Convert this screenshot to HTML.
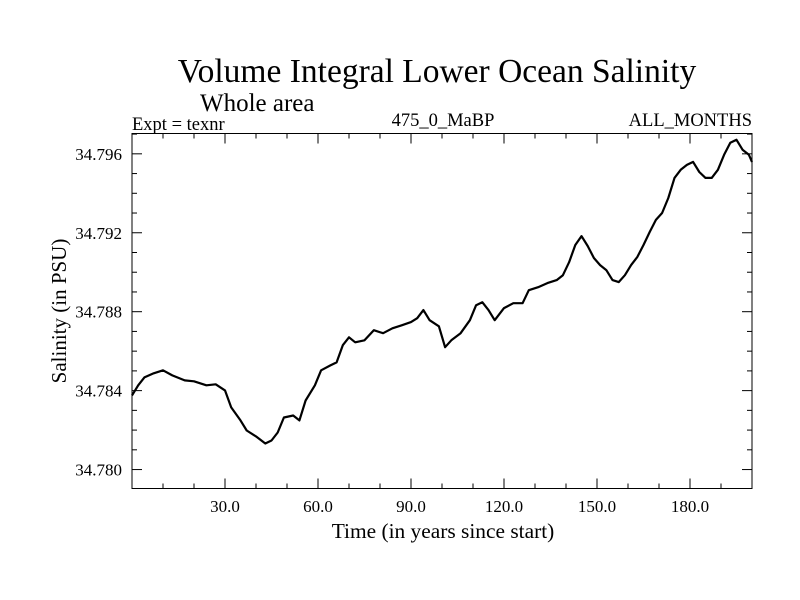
<!DOCTYPE html>
<html><head><meta charset="utf-8"><style>
body{margin:0;background:#fff}
svg{display:block;font-family:"Liberation Serif",serif}
</style></head><body>
<svg id="chart" width="800" height="600">
<text x="437" y="82" font-size="33.5" text-anchor="middle">Volume Integral Lower Ocean Salinity</text>
<text x="200" y="111" font-size="25">Whole area</text>
<text x="132" y="130" font-size="18.5">Expt = texnr</text>
<text x="443" y="126" font-size="18.5" text-anchor="middle">475_0_MaBP</text>
<text x="752" y="126" font-size="18.5" text-anchor="end">ALL_MONTHS</text>
<text x="443" y="538" font-size="21.4" text-anchor="middle">Time (in years since start)</text>
<text transform="translate(66,311) rotate(-90)" font-size="21" text-anchor="middle">Salinity (in PSU)</text>
<g id="axes"></g>
<path id="line" fill="none" stroke="#000" stroke-width="2.2" stroke-linejoin="round"></path>
<rect x="132" y="133.5" width="620" height="355" fill="none" stroke="#000" stroke-width="1"></rect>
</svg>
<script>
const years=[0,2,4,7,10,13,17,20,24,27,30,32,35,37,40,43,45,47,49,52,54,56,59,61,64,66,68,70,72,75,78,81,84,87,90,92,94,96,99,101,103,106,109,111,113,115,117,120,123,126,128,131,134,137,139,141,143,145,147,149,151,153,155,157,159,161,163,165,167,169,171,173,175,177,179,181,183,185,187,189,191,193,195,197,199,200];
const salinity=[34.78376,34.78427,34.78467,34.78488,34.78503,34.78477,34.78452,34.78447,34.78427,34.78432,34.78401,34.78315,34.78249,34.78198,34.78168,34.78132,34.78147,34.78188,34.78264,34.78274,34.78249,34.78350,34.78427,34.78503,34.78528,34.78543,34.78630,34.78670,34.78645,34.78655,34.78706,34.78691,34.78716,34.78731,34.78747,34.78767,34.78808,34.78757,34.78726,34.78620,34.78655,34.78691,34.78757,34.78833,34.78848,34.78808,34.78757,34.78818,34.78843,34.78843,34.78909,34.78924,34.78945,34.78960,34.78985,34.79051,34.79138,34.79183,34.79133,34.79072,34.79036,34.79011,34.78960,34.78950,34.78985,34.79036,34.79077,34.79138,34.79204,34.79265,34.79300,34.79376,34.79478,34.79519,34.79544,34.79559,34.79508,34.79478,34.79478,34.79519,34.79595,34.79656,34.79671,34.79620,34.79595,34.79559];
const xTicks=[30,60,90,120,150,180];
const xTickLabels=["30.0","60.0","90.0","120.0","150.0","180.0"];
const yTicks=[34.780,34.784,34.788,34.792,34.796];
const yTickLabels=["34.780","34.784","34.788","34.792","34.796"];
const L=132,R=752,T=133.5,B=488.5,X0=0,X1=200,Y0=34.77904,Y1=34.79703;
const xs=v=>L+(v-X0)/(X1-X0)*(R-L);
const ys=v=>B-(v-Y0)/(Y1-Y0)*(B-T);
const NS="http://www.w3.org/2000/svg";
const ax=document.getElementById('axes');
function ln(x1,y1,x2,y2){const e=document.createElementNS(NS,'line');e.setAttribute('x1',x1);e.setAttribute('y1',y1);e.setAttribute('x2',x2);e.setAttribute('y2',y2);e.setAttribute('stroke','#000');


ax.appendChild(e);}
function tx(x,y,s,anchor,name){const e=document.createElementNS(NS,'text');e.setAttribute('x',x);e.setAttribute('y',y);e.setAttribute('font-size','17');e.setAttribute('text-anchor',anchor);e.textContent=s;


ax.appendChild(e);}
for(let t=10;t<200;t+=10){const x=xs(t);const big=t%30===0;const len=big?10:5;ln(x,B,x,B-len);ln(x,T,x,T+len);}
for(let k=0;k<=17;k++){const v=34.780+k*0.001;if(v>Y1)break;const y=ys(v);const big=k%4===0;const len=big?10:5;ln(L,y,L+len,y);ln(R,y,R-len,y);}
xTicks.forEach((t,i)=>tx(xs(t),512,xTickLabels[i],'middle','x-tick-label'));
yTicks.forEach((v,i)=>tx(122,ys(v)+6,yTickLabels[i],'end','y-tick-label'));
let d='';years.forEach((t,i)=>{d+=(i?'L':'M')+xs(t).toFixed(1)+','+ys(salinity[i]).toFixed(1);});
document.getElementById('line').setAttribute('d',d);
</script>
</body></html>
